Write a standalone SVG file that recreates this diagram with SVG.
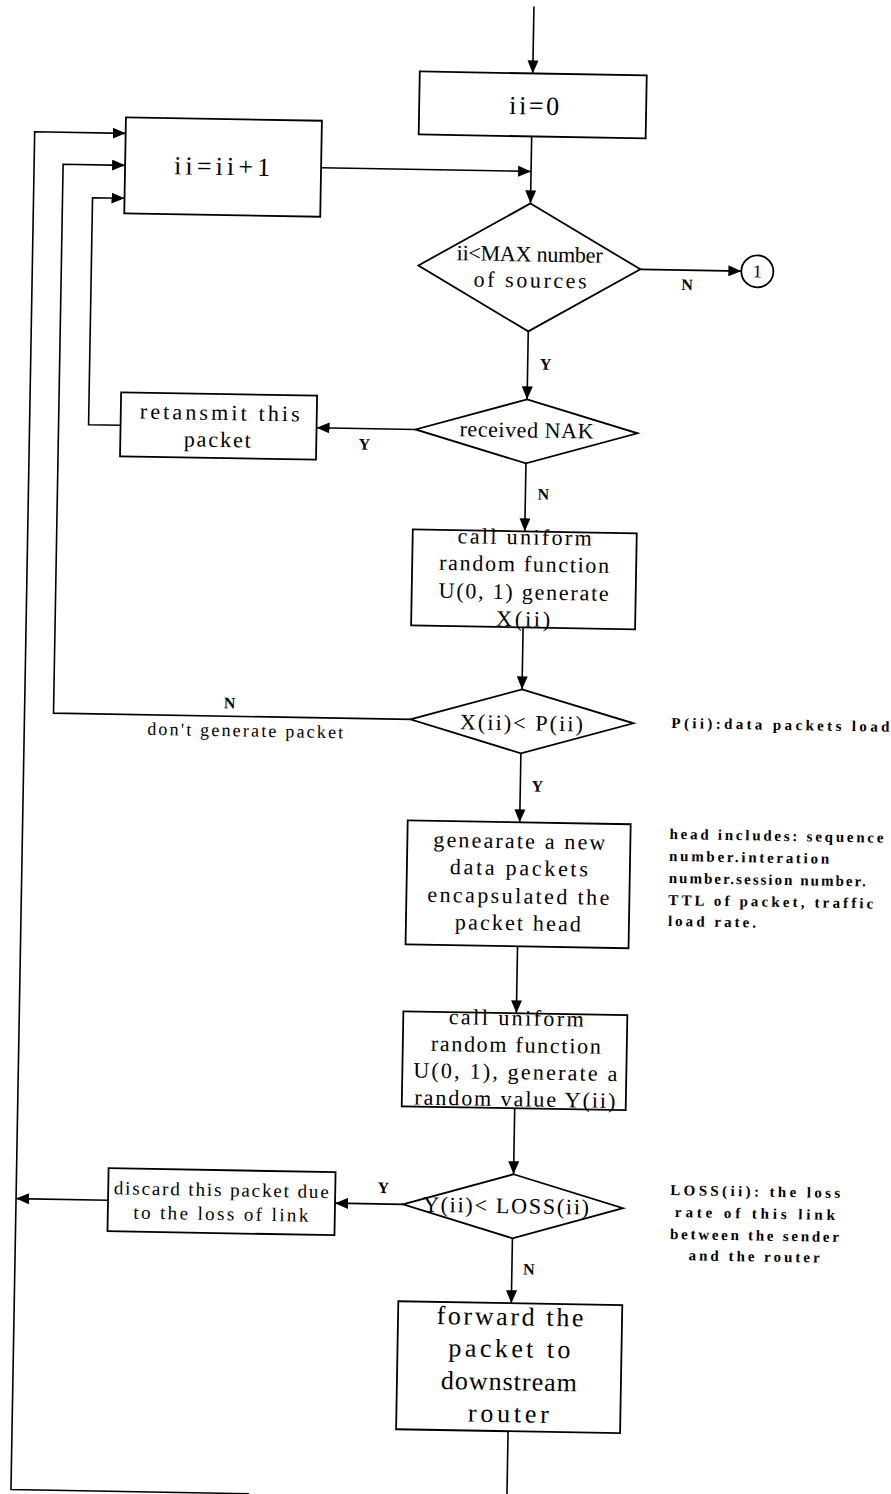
<svg xmlns="http://www.w3.org/2000/svg" width="891" height="1494" viewBox="0 0 891 1494">
<style>
  .box{fill:#fff;stroke:#000;stroke-width:1.8}
  .ln{fill:none;stroke:#000;stroke-width:1.6}
  .arr{marker-end:url(#ah)}
  text{font-family:"Liberation Serif","Times New Roman",serif;fill:#000}
  .c{text-anchor:middle}
  .s{text-anchor:start}
  .big{font-size:26px}
  .mid{font-size:22px}
  .sm{font-size:19px}
  .lbl{font-size:16px;font-weight:bold}
  .note{font-size:15px;font-weight:bold}
</style>
<defs>
  <marker id="ah" viewBox="0 0 13 11" refX="13" refY="5.5" markerWidth="13" markerHeight="11" markerUnits="userSpaceOnUse" orient="auto">
    <path d="M0,0 L13,5.5 L0,11 z" fill="#000"/>
  </marker>
</defs>
<rect width="891" height="1494" fill="#fff"/>
<!-- whole chart is laid out square, then tilted by one degree -->
<g transform="rotate(1 445 747)">
  <g id="connectors">
    <path class="ln arr" d="M521,5 V72"/>
    <path class="ln arr" d="M521,135 V202"/>
    <path class="ln arr" d="M311,170 H521"/>
    <path class="ln arr" d="M632,266 H733"/>
    <path class="ln arr" d="M521,330 V398"/>
    <path class="ln arr" d="M410,430 H311"/>
    <path class="ln arr" d="M115,431 H83 V204 H115"/>
    <path class="ln arr" d="M521,462 V530"/>
    <path class="ln arr" d="M521,626 V688"/>
    <path class="ln arr" d="M410,720 H53 V171 H115"/>
    <path class="ln arr" d="M521,752 V821"/>
    <path class="ln arr" d="M521,945 V1012"/>
    <path class="ln arr" d="M521,1107 V1173"/>
    <path class="ln arr" d="M411,1205 H343"/>
    <path class="ln arr" d="M116,1206 H24"/>
    <path class="ln arr" d="M521,1237 V1302"/>
    <path class="ln" d="M520,1430 V1512"/>
    <path class="ln arr" d="M262,1497 H24 V139 H115"/>
    <text class="lbl c" x="679" y="286">N</text>
    <text class="lbl c" x="539" y="368">Y</text>
    <text class="lbl c" x="359" y="451">Y</text>
    <text class="lbl c" x="539" y="498">N</text>
    <text class="lbl c" x="229" y="712">N</text>
    <text class="c" x="245" y="740" font-size="18" textLength="196">don't generate packet</text>
    <text class="lbl c" x="538" y="790">Y</text>
    <text class="lbl c" x="391" y="1194">Y</text>
    <text class="lbl c" x="538" y="1273">N</text>
  </g>
  <g id="n-init">
    <rect class="box" x="408" y="72" width="227" height="63"/>
    <text class="big c" x="523" y="113" textLength="50">ii=0</text>
  </g>
  <g id="n-incr">
    <rect class="box" x="115" y="123" width="196" height="96"/>
    <text class="big c" x="212" y="179" textLength="96">ii=ii+1</text>
  </g>
  <g id="n-check-sources">
    <polygon class="box" points="521,202 632,266 521,330 410,266"/>
    <text class="mid c" x="521" y="260" textLength="146">ii&lt;MAX number</text>
    <text class="mid c" x="522" y="286" textLength="113">of sources</text>
  </g>
  <g id="n-exit">
    <circle class="box" cx="749" cy="266" r="16"/>
    <text class="c" x="749" y="272" font-size="18">1</text>
  </g>
  <g id="n-nak">
    <polygon class="box" points="521,398 632,430 521,462 410,430"/>
    <text class="mid c" x="521" y="436" textLength="134">received NAK</text>
  </g>
  <g id="n-retransmit">
    <rect class="box" x="115" y="398" width="196" height="64"/>
    <text class="mid c" x="214" y="424" textLength="160">retansmit this</text>
    <text class="mid c" x="212" y="451" textLength="67">packet</text>
  </g>
  <g id="n-rand-x">
    <rect class="box" x="409" y="530" width="224" height="96"/>
    <text class="mid c" x="521" y="543" textLength="134">call uniform</text>
    <text class="mid c" x="521" y="570" textLength="170">random function</text>
    <text class="mid c" x="521" y="598" textLength="170">U(0, 1) generate</text>
    <text class="mid c" x="521" y="625" textLength="54">X(ii)</text>
  </g>
  <g id="n-load">
    <polygon class="box" points="521,688 633,720 521,752 410,720"/>
    <text class="mid c" x="521" y="729" textLength="123">X(ii)&lt; P(ii)</text>
    <text class="note s" x="671" y="724" textLength="218">P(ii):data packets load</text>
  </g>
  <g id="n-generate">
    <rect class="box" x="409" y="821" width="223" height="124"/>
    <text class="mid c" x="521" y="847" textLength="172">genearate a new</text>
    <text class="mid c" x="521" y="874" textLength="138">data packets</text>
    <text class="mid c" x="521" y="902" textLength="182">encapsulated the</text>
    <text class="mid c" x="521" y="929" textLength="126">packet head</text>
    <text class="note s" x="671" y="835" textLength="214">head includes: sequence</text>
    <text class="note s" x="671" y="857" textLength="160">number.interation</text>
    <text class="note s" x="671" y="879" textLength="197">number.session number.</text>
    <text class="note s" x="671" y="901" textLength="205">TTL of packet, traffic</text>
    <text class="note s" x="671" y="922" textLength="88">load rate.</text>
  </g>
  <g id="n-rand-y">
    <rect class="box" x="408" y="1012" width="224" height="95"/>
    <text class="mid c" x="521" y="1024" textLength="135">call uniform</text>
    <text class="mid c" x="521" y="1051" textLength="170">random function</text>
    <text class="mid c" x="521" y="1078" textLength="204">U(0, 1), generate a</text>
    <text class="mid c" x="521" y="1105" textLength="201">random value Y(ii)</text>
  </g>
  <g id="n-loss">
    <polygon class="box" points="521,1173 631,1205 521,1237 411,1205"/>
    <text class="mid c" x="514" y="1212" textLength="166">Y(ii)&lt; LOSS(ii)</text>
    <text class="note c" x="763" y="1191" textLength="170">LOSS(ii): the loss</text>
    <text class="note c" x="763" y="1213" textLength="160">rate of this link</text>
    <text class="note c" x="763" y="1235" textLength="169">between the sender</text>
    <text class="note c" x="763" y="1256" textLength="131">and the router</text>
  </g>
  <g id="n-discard">
    <rect class="box" x="116" y="1174" width="227" height="63"/>
    <text class="sm c" x="229" y="1200" textLength="215">discard this packet due</text>
    <text class="sm c" x="229" y="1224" textLength="175">to the loss of link</text>
  </g>
  <g id="n-forward">
    <rect class="box" x="408" y="1302" width="224" height="128"/>
    <text class="big c" x="520" y="1324" textLength="147">forward the</text>
    <text class="big c" x="520" y="1356" textLength="122">packet to</text>
    <text class="big c" x="520" y="1389" textLength="136">downstream</text>
    <text class="big c" x="520" y="1421" textLength="81">router</text>
  </g>
</g>
</svg>
